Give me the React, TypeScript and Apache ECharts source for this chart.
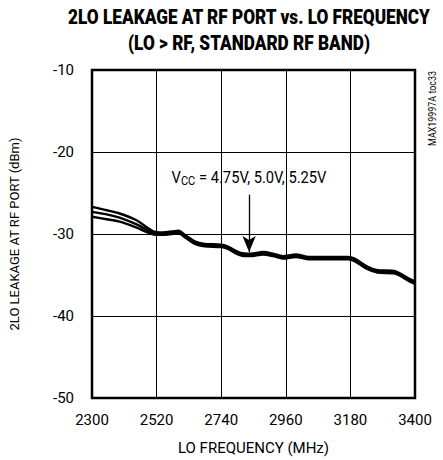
import React, { useEffect, useRef } from "react";
import * as echarts from "echarts";

const freqs = [2300, 2350, 2394, 2450, 2505, 2540, 2572, 2594, 2620, 2650, 2683, 2739, 2761, 2806, 2839, 2883, 2917, 2950, 2994, 3039, 3100, 3172, 3194, 3239, 3272, 3328, 3383, 3400];
const vcc475 = [-26.7, -27.1, -27.5, -28.3, -29.6, -29.8, -29.7, -29.6, -30.2, -30.9, -31.2, -31.3, -31.5, -32.3, -32.4, -32.2, -32.4, -32.7, -32.5, -32.8, -32.8, -32.8, -33.0, -34.0, -34.4, -34.5, -35.5, -35.8];
const vcc50 = [-27.3, -27.6, -28.0, -28.8, -29.8, -29.95, -29.85, -29.75, -30.35, -31.05, -31.35, -31.45, -31.65, -32.45, -32.55, -32.35, -32.55, -32.85, -32.65, -32.95, -32.95, -32.95, -33.15, -34.15, -34.55, -34.65, -35.65, -35.95];
const vcc525 = [-27.9, -28.2, -28.5, -29.2, -30.0, -30.1, -30.0, -29.9, -30.5, -31.2, -31.5, -31.6, -31.8, -32.6, -32.7, -32.5, -32.7, -33.0, -32.8, -33.1, -33.1, -33.1, -33.3, -34.3, -34.7, -34.8, -35.8, -36.1];
const xTicks = [2300, 2520, 2740, 2960, 3180, 3400];
const yTicks = [-50, -40, -30, -20, -10];
const arrowFrom = [2835, -25.2];
const arrowTo = [2835, -32.2];

const FONT = "Roboto, 'Liberation Sans', sans-serif";

export default function App() {
  const ref = useRef<HTMLDivElement>(null);
  useEffect(() => {
    if (!ref.current) return;
    const chart = echarts.init(ref.current, null, { renderer: "svg" });
    const mk = (name: string, data: number[]) => ({
      name,
      type: "line",
      data: freqs.map((f, i) => [f, data[i]]),
      showSymbol: false,
      smooth: 0.3,
      lineStyle: { color: "#000", width: 2.4 },
      z: 5,
    });
    const s1: any = mk("4.75V", vcc475);
    s1.markLine = {
      silent: true,
      symbol: ["none", "arrow"],
      symbolSize: [10, 16],
      label: { show: false },
      lineStyle: { color: "#000", width: 1.3, type: "solid" },
      data: [[{ coord: arrowFrom }, { coord: arrowTo }]],
    };
    chart.setOption({
      animation: false,
      backgroundColor: "#fff",
      grid: { left: 85, right: 28, top: 70, bottom: 60, show: true, borderColor: "#000", borderWidth: 2.5 },
      xAxis: {
        type: "value",
        min: 2300,
        max: 3400,
        interval: 220,
        name: "LO FREQUENCY (MHz)",
        nameLocation: "middle",
        nameGap: 42,
        nameTextStyle: { fontFamily: FONT, fontSize: 15, color: "#000" },
        axisLine: { show: false },
        axisTick: { show: false },
        axisLabel: { fontFamily: FONT, fontSize: 15, color: "#000", margin: 14, formatter: (v: number) => String(v) },
        splitLine: { show: true, lineStyle: { color: "#000", width: 1 } },
      },
      yAxis: {
        type: "value",
        min: -50,
        max: -10,
        interval: 10,
        name: "2LO LEAKAGE AT RF PORT (dBm)",
        nameLocation: "middle",
        nameGap: 71,
        nameTextStyle: { fontFamily: FONT, fontSize: 13, color: "#000" },
        axisLine: { show: false },
        axisTick: { show: false },
        axisLabel: { fontFamily: FONT, fontSize: 15, color: "#000", margin: 18, formatter: (v: number) => String(v) },
        splitLine: { show: true, lineStyle: { color: "#000", width: 1 } },
      },
      graphic: [
        {
          type: "text",
          x: 249,
          y: 5,
          scaleX: 0.86,
          style: {
            text: "2LO LEAKAGE AT RF PORT vs. LO FREQUENCY\n(LO > RF, STANDARD RF BAND)",
            fontFamily: FONT,
            fontWeight: 900,
            fontSize: 20,
            lineHeight: 26,
            fill: "#000",
            align: "center",
            verticalAlign: "top",
          },
        },
        {
          type: "text",
          x: 249,
          y: 178,
          scaleX: 0.92,
          z: 10,
          style: {
            text: "{v|V}{s|CC}{v| = 4.75V, 5.0V, 5.25V}",
            align: "center",
            verticalAlign: "middle",
            fill: "#000",
            rich: {
              v: { fontFamily: FONT, fontSize: 16, fill: "#000" },
              s: { fontFamily: FONT, fontSize: 12, fill: "#000", padding: [6, 0, 0, 0] },
            },
          },
        },
        {
          type: "text",
          x: 432,
          y: 71,
          rotation: Math.PI / 2,
          scaleX: 0.85,
          style: {
            text: "MAX19997A toc33",
            fontFamily: FONT,
            fontSize: 10.5,
            fill: "#000",
            align: "right",
            verticalAlign: "middle",
          },
        },
      ],
      series: [s1, mk("5.0V", vcc50), mk("5.25V", vcc525)],
    });
    return () => chart.dispose();
  }, []);
  return <div ref={ref} style={{ position: "absolute", left: 0, top: 0, width: 443, height: 460 }} />;
}
